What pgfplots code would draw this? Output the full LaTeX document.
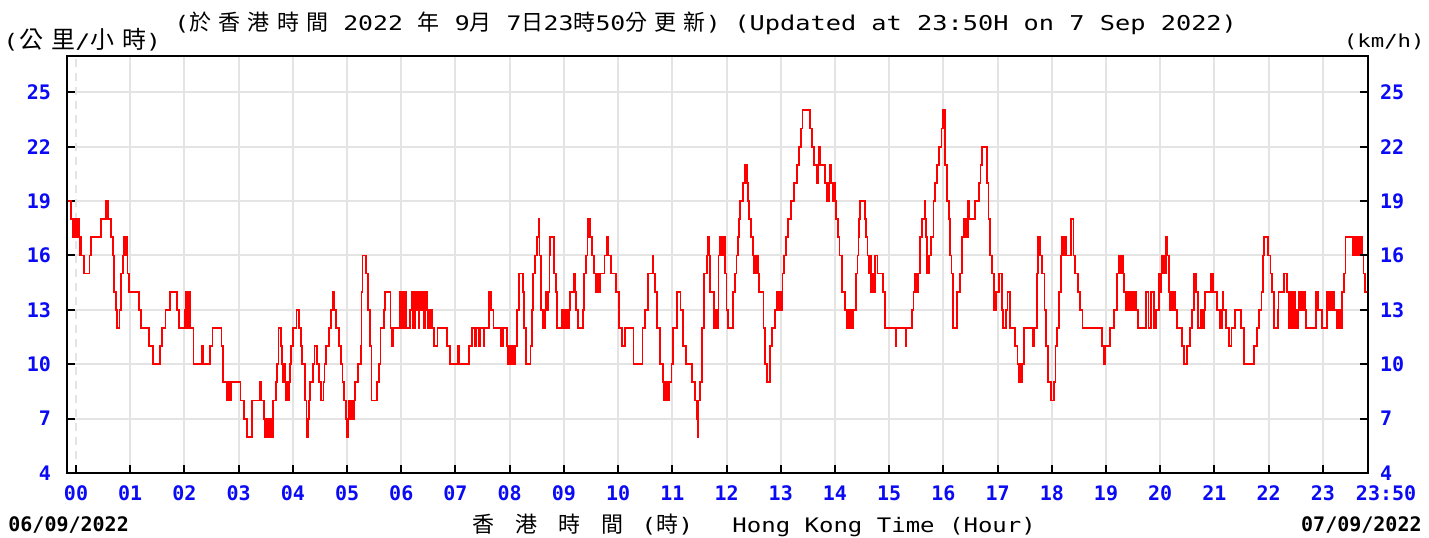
\documentclass[border=0pt]{standalone}
\usepackage{pgfplots}
\pgfplotsset{compat=1.18}
\usepackage{pgfplotstable}
\usepackage{fontspec}
\setmainfont{DejaVu Sans Mono}
\newfontfamily\tickf{DejaVu Sans Mono}
\newfontfamily\titlef[FakeStretch=1.24]{DejaVu Sans Mono}
\newfontfamily\labelf[FakeStretch=1.2]{DejaVu Sans Mono}
\newfontfamily\cjk[LetterSpace=33]{Noto Sans CJK TC}
\definecolor{gridc}{RGB}{228,228,228}
\definecolor{tickblue}{RGB}{10,10,245}
\newcommand{\tf}{\titlef\fontsize{10}{12}\selectfont}

\pgfplotstableread[row sep=\\]{
t v\\
-10 19\\ -6 18\\ -3 17\\ -2 18\\ -1 17\\ 0 18\\ 1 17\\ 2 18\\ 3 17\\ 4 16\\ 5 17\\ 6 16\\ 9 15\\ 15 16\\ 17 17\\ 28 18\\ 33 19\\ 34 18\\ 35 19\\ 36 18\\ 39 17\\ 41 16\\ 42 14\\ 44 13\\ 45 12\\ 48 13\\ 50 15\\ 52 16\\ 53 17\\ 54 16\\ 55 17\\ 56 16\\ 57 15\\ 59 14\\ 70 13\\ 72 12\\ 81 11\\ 85 10\\ 93 11\\ 95 12\\ 99 13\\ 104 14\\ 112 13\\ 114 12\\ 120 13\\ 121 12\\ 122 14\\ 123 12\\ 124 13\\ 125 14\\ 126 12\\ 130 10\\ 139 11\\ 141 10\\ 148 11\\ 151 12\\ 161 11\\ 163 9\\ 167 8\\ 168 9\\ 169 8\\ 170 9\\ 171 8\\ 172 9\\ 182 8\\ 186 7\\ 189 6\\ 195 8\\ 203 9\\ 205 8\\ 208 7\\ 209 6\\ 210 7\\ 211 6\\ 212 7\\ 213 6\\ 214 7\\ 215 6\\ 216 7\\ 217 6\\ 218 8\\ 221 9\\ 222 10\\ 224 12\\ 226 12\\ 227 11\\ 228 10\\ 229 9\\ 230 10\\ 231 9\\ 232 8\\ 233 9\\ 234 8\\ 236 9\\ 237 10\\ 238 11\\ 240 12\\ 244 13\\ 246.5 12\\
249 11\\ 250 10\\ 253 8\\ 255 7\\ 256 6\\ 257 7\\ 258 8\\ 259 9\\ 262 10\\ 264 11\\ 267 10\\ 269 9\\ 271 8\\ 274 9\\ 275 10\\ 277 11\\ 280 12\\ 282 13\\ 284 14\\ 286 13\\ 288 12\\ 291 11\\ 293 10\\ 295 9\\ 297 8\\ 299 7\\ 300 6\\ 301 7\\ 302 8\\ 303 7\\ 304 8\\ 305 7\\ 306 8\\ 307 7\\ 308 8\\ 309 9\\ 312 10\\ 315 11\\ 316 14\\ 317 16\\ 321 15\\ 323 13\\ 325 11\\ 327 8\\ 333 9\\ 335 10\\ 337 12\\ 341 13\\ 342 14\\ 348 12\\ 350 11\\ 351 12\\ 358 13\\ 359 14\\ 360 12\\ 361 14\\ 362 13\\ 363 12\\ 364 14\\ 365 12\\ 370 13\\ 372 14\\ 373 12\\ 375 14\\ 376 13\\ 377 14\\ 379 12\\ 380 14\\ 382 13\\ 384 14\\ 385 12\\ 386 13\\ 387 14\\ 389 12\\ 390 13\\ 391 12\\ 393 13\\ 394 12\\ 396 11\\ 400 12\\ 411 11\\ 414 10\\ 423 11\\ 424 10\\ 435 11\\ 438 12\\ 442 11\\ 443 12\\ 446 11\\ 447 12\\ 451 11\\ 452 12\\ 457 14\\ 459 13\\ 462 12\\ 470 11\\ 473 12\\ 477 11\\ 478 10\\ 480 11\\ 481 10\\ 483 11\\ 484 10\\ 486 11\\ 488 13\\ 490 15\\
495 14\\ 496 12\\ 498 10\\ 503 11\\ 505 13\\ 506 15\\ 508 16\\ 510 17\\ 512 18\\ 513 16\\ 515 13\\ 517 12\\ 519 13\\ 520 14\\ 521 13\\ 522 14\\ 524 16\\ 525 17\\ 529 15\\ 531 14\\ 532 12\\ 538 13\\ 539 12\\ 540 13\\ 541 12\\ 542 13\\ 543 12\\ 544 13\\ 545 12\\ 546 13\\ 547 14\\ 551 15\\ 552 14\\ 553 13\\ 556 12\\ 561 13\\ 562 15\\ 564 16\\ 566 17\\ 567 18\\ 569 17\\ 571 16\\ 573 15\\ 575 14\\ 576 15\\ 577 14\\ 578 15\\ 579 14\\ 580 15\\ 585 16\\ 588 17\\ 589 16\\ 592 15\\ 598 14\\ 601 12\\ 604 11\\ 608 12\\ 617 10\\ 627 12\\ 630 13\\ 633 15\\ 638 16\\ 639 15\\ 641 14\\ 643 12\\ 646 10\\ 650 9\\ 651 8\\ 652 9\\ 653 8\\ 654 9\\ 655 8\\ 656 9\\ 659 10\\ 661 12\\ 665 14\\ 669 13\\ 672 11\\ 675 10\\ 682 9\\ 685 8\\ 687 7\\ 688 6\\ 689 8\\ 691 9\\ 693 12\\ 695 15\\ 698 16\\ 699 17\\ 701 16\\ 702 14\\ 706 12\\ 707 13\\ 708 12\\ 709 13\\ 710 12\\ 711 16\\
713 17\\ 714 16\\ 715 17\\ 716 16\\ 717 17\\ 718 15\\ 720 13\\ 722 12\\ 727 14\\ 729 15\\ 731 16\\ 733 17\\ 734 18\\ 735 19\\ 738 20\\ 740 21\\ 743 20\\ 744 19\\ 745 18\\ 747 17\\ 749 16\\ 750 15\\ 751 16\\ 752 15\\ 753 16\\ 755 15\\ 756 14\\ 761 12\\ 763 10\\ 765 9\\ 768 11\\ 770 12\\ 774 13\\ 776 14\\ 777 13\\ 778 14\\ 779 13\\ 780 14\\ 781 13\\ 782 15\\ 784 16\\ 786 17\\ 788 18\\ 791 19\\ 795 20\\ 798 21\\ 800 22\\ 802 23\\ 804 24\\ 812 23\\ 815 22\\ 817 21\\ 820 20\\ 821 21\\ 822 22\\ 824 21\\ 829 20\\ 831 19\\ 832 20\\ 833 19\\ 834 21\\ 836 20\\ 838 19\\ 839 20\\ 840 19\\ 841 18\\ 843 17\\ 845 16\\ 848 14\\ 851 13\\ 853 12\\ 854 13\\ 855 12\\ 856 13\\ 857 12\\ 858 13\\ 859 12\\ 860 13\\ 863 15\\ 865 16\\ 866 17\\ 867 18\\ 868 19\\ 873 18\\ 874 17\\ 876 16\\ 878 15\\ 879 16\\ 880 14\\ 881 15\\ 882 14\\ 884 16\\ 887 15\\ 893 14\\ 895 12\\ 907 11\\ 908 12\\ 918 11\\ 919 12\\ 925 13\\ 927 14\\ 928 15\\ 929 14\\ 930 15\\ 931 14\\ 932 15\\ 934 17\\ 936 18\\ 939 19\\ 940 18\\ 941 17\\ 942 15\\ 944 16\\ 946 17\\ 949 19\\ 951 20\\ 953 21\\ 955 22\\ 958 23\\ 960 24\\ 962 21\\ 964 19\\ 966 18\\ 967 16\\ 969 15\\ 971 12\\ 975 14\\ 978 15\\ 981 17\\ 983 18\\ 984 17\\ 985 18\\ 986 17\\ 987 19\\ 989 18\\ 995 19\\ 999 20\\ 1001 21\\ 1003 22\\ 1008 20\\ 1010 18\\ 1012 16\\ 1014 15\\ 1016 13\\ 1018 14\\ 1022 15\\ 1025 13\\ 1026 12\\ 1029 13\\ 1031 14\\ 1034 12\\ 1039 11\\ 1042 10\\ 1044 9\\ 1045 10\\ 1046 9\\ 1047 10\\ 1049 12\\ 1059 11\\ 1060 12\\ 1064 15\\ 1065 17\\ 1067 16\\ 1069 15\\ 1072 13\\ 1074 11\\ 1076 9\\ 1079 8\\ 1082 9\\ 1084 11\\ 1086 12\\ 1088 14\\ 1090 16\\ 1091 17\\ 1092 16\\ 1093 17\\ 1094 16\\ 1095 17\\ 1096 16\\ 1101 18\\ 1104 16\\ 1106 15\\ 1109 14\\ 1111 13\\ 1114 12\\ 1136 11\\ 1138 10\\ 1139 11\\ 1144 12\\ 1149 13\\ 1152 15\\ 1154 16\\ 1155 15\\ 1156 16\\ 1157 15\\ 1158 16\\ 1159 15\\ 1160 14\\ 1162 13\\ 1164 14\\ 1166 13\\ 1168 14\\ 1170 13\\ 1171 14\\ 1173 13\\ 1175 12\\ 1184 14\\ 1187 12\\ 1190 14\\ 1193 12\\ 1195 13\\ 1199 15\\
1200 14\\ 1201 15\\ 1202 16\\ 1203 15\\ 1204 16\\ 1205 15\\ 1206 17\\ 1208 16\\ 1210 14\\ 1211 13\\ 1212 14\\ 1213 13\\ 1214 14\\ 1215 13\\ 1216 14\\ 1217 13\\ 1219 12\\ 1224 11\\ 1226 10\\ 1230 11\\ 1233 12\\ 1235 13\\ 1237 15\\ 1240 14\\ 1242 12\\ 1245 13\\ 1246 12\\ 1247 13\\ 1248 12\\ 1249 13\\ 1250 14\\ 1256 15\\ 1258 14\\ 1263 13\\ 1266 12\\ 1267 13\\ 1268 12\\ 1269 14\\ 1270 13\\ 1273 12\\ 1276 11\\ 1279 12\\ 1283 13\\ 1289 12\\ 1293 10\\ 1304 11\\ 1307 12\\ 1309 13\\ 1312 14\\ 1314 16\\ 1315 17\\ 1319 16\\ 1322 15\\ 1324 14\\ 1326 12\\ 1330 13\\ 1331 14\\ 1337 15\\ 1340 14\\ 1342 12\\ 1344 14\\ 1346 12\\ 1347 14\\ 1349 12\\ 1350 13\\ 1351 12\\ 1353 14\\ 1355 13\\ 1356 14\\ 1358 13\\ 1359 14\\ 1360 13\\ 1361 12\\ 1372 14\\ 1375 13\\ 1379 12\\ 1385 14\\ 1386 13\\ 1388 14\\ 1389 13\\ 1391 14\\ 1392 13\\ 1396 12\\ 1397 13\\ 1398 12\\ 1399 13\\ 1400 12\\ 1401 14\\ 1403 15\\ 1405 17\\ 1413 16\\ 1414 17\\ 1416 16\\ 1418 17\\ 1420 16\\ 1422 17\\ 1424 16\\ 1425 15\\ 1427 14\\ 1430 14\\
}\windtable

\pgfplotsset{
  commonaxis/.style={
    at={(33.5pt,32pt)}, anchor=south west,
    scale only axis, width=650.5pt, height=208.5pt,
    xmin=-10, xmax=1430, ymin=4, ymax=27,
    ytick={4,7,10,13,16,19,22,25},
    yticklabels={4,7,10,13,16,19,22,25},
    tick label style={font=\tickf\bfseries\fontsize{10}{12}\selectfont, text=tickblue},
    tick align=inside,
    major tick length=4pt,
  },
}

\begin{document}
\begin{tikzpicture}[x=1pt,y=1pt]
\useasboundingbox (0,0) rectangle (714.5,268.5);
\begin{axis}[
  commonaxis,
  xtick={60,120,180,240,300,360,420,480,540,600,660,720,780,840,900,960,1020,1080,1140,1200,1260,1320,1380,1430},
  xticklabels={01,02,03,04,05,06,07,08,09,10,11,12,13,14,15,16,17,18,19,20,21,22,23,{\hphantom{000}23:50}},
  extra x ticks={0},
  extra x tick labels={00},
  extra x tick style={major grid style={gridc, line width=1pt, dash pattern=on 4pt off 3pt}},
  xmajorgrids, ymajorgrids,
  major grid style={gridc, line width=1pt},
  axis line style={line width=1pt, black},
  tick style={black, line width=1pt},
  xtick pos=bottom,
  ytick pos=left,
  xticklabel style={anchor=base, yshift=-13.5pt},
  yticklabel style={anchor=east, xshift=-4.5pt},
  clip=true,
]
\addplot[const plot, color=red, line width=0.9pt] table[x=t, y=v] {\windtable};
\end{axis}
\begin{axis}[
  commonaxis,
  xtick=\empty,
  axis line style={draw=none},
  ytick pos=right,
  yticklabel pos=right,
  tick style={black, line width=1pt},
  yticklabel style={anchor=west, xshift=2.5pt},
]
\addplot[draw=none] coordinates {(0,10)};
\end{axis}
\draw[black, line width=1pt] (33.5,32) rectangle (684,240.5);
% titles
\node[anchor=base west, inner sep=0pt] at (1.5,244) {\tf(\kern0.5pt{\cjk\fontsize{12}{14}\selectfont 公里}/{\cjk\fontsize{12}{14}\selectfont 小時})};
\node[anchor=base west, inner sep=0pt] at (87,253) {\tf({\cjk\fontsize{11}{13}\selectfont 於香港時間} 2022 {\cjk\fontsize{11}{13}\selectfont 年} 9{\cjk\fontsize{11}{13}\selectfont 月} 7{\cjk\fontsize{11}{13}\selectfont 日}23{\cjk\fontsize{11}{13}\selectfont 時}50{\cjk\fontsize{11}{13}\selectfont 分更新})};
\node[anchor=base west, inner sep=0pt] at (367,253) {\titlef\fontsize{10.2}{12}\selectfont (Updated at 23:50H on 7 Sep 2022)};
\node[anchor=base east, inner sep=0pt] at (712.5,244.5) {\titlef\fontsize{9}{11}\selectfont (km/h)};
\node[anchor=base west, inner sep=0pt] at (4,3) {\tickf\bfseries\fontsize{10}{12}\selectfont 06/09/2022};
\node[anchor=base east, inner sep=0pt] at (711,3) {\tickf\bfseries\fontsize{10}{12}\selectfont 07/09/2022};
\node[anchor=base west, inner sep=0pt] at (236,2.5) {\cjk\fontsize{11}{13}\selectfont 香\hspace{10.5pt}港\hspace{10.5pt}時\hspace{10.5pt}間\hspace{9pt}{\tf(}時{\tf)}};
\node[anchor=base west, inner sep=0pt] at (366,2.5) {\labelf\fontsize{10}{12}\selectfont Hong Kong Time (Hour)};
\end{tikzpicture}
\end{document}
